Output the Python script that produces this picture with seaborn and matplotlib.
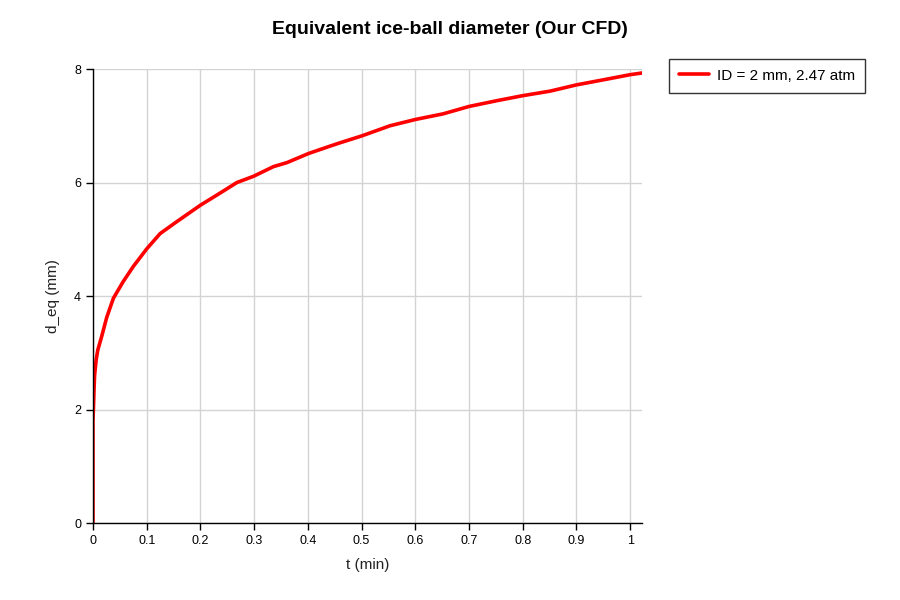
import pandas as pd
import seaborn as sns
import matplotlib.pyplot as plt
import matplotlib.ticker as mticker

# values
t_min = [0.0, 0.0, 0.001, 0.002, 0.003, 0.006, 0.009, 0.016, 0.0255, 0.038,
         0.056, 0.075, 0.1, 0.125, 0.156, 0.2, 0.236, 0.268, 0.299, 0.336,
         0.361, 0.401, 0.441, 0.46, 0.5, 0.553, 0.6, 0.652, 0.7, 0.751,
         0.8, 0.851, 0.9, 0.956, 1.0, 1.022]
d_eq = [0.0, 1.8, 2.05, 2.35, 2.6, 2.88, 3.05, 3.28, 3.62, 3.96,
        4.25, 4.52, 4.83, 5.10, 5.31, 5.60, 5.81, 6.0, 6.11, 6.28,
        6.35, 6.51, 6.64, 6.70, 6.82, 7.0, 7.11, 7.21, 7.34, 7.44,
        7.53, 7.61, 7.72, 7.82, 7.90, 7.93]
series = "ID = 2 mm, 2.47 atm"

df = pd.DataFrame({"t": t_min, "d": d_eq, "case": series})

sns.set_style("whitegrid")
plt.rcParams['font.family'] = ['Liberation Sans', 'DejaVu Sans']
plt.rcParams['text.color'] = 'black'
plt.rcParams['axes.labelcolor'] = '#222222'

fig = plt.figure(figsize=(9, 6), dpi=100)
ax = fig.add_axes([0.1033, 0.1283, 0.61, 0.7567])

sns.lineplot(data=df, x="t", y="d", hue="case", palette=["#ff0000"],
             linewidth=2.6, ax=ax, estimator=None, sort=False)

ax.set_xlim(0, 1.022)
ax.set_ylim(0, 8)
ax.xaxis.set_major_locator(mticker.MultipleLocator(0.1))
ax.yaxis.set_major_locator(mticker.MultipleLocator(2))
ax.xaxis.set_major_formatter(mticker.FuncFormatter(lambda v, p: f"{v:g}"))

ax.grid(True, color="#d3d3d3", linewidth=1)
for s in ["top", "right"]:
    ax.spines[s].set_visible(False)
for s in ["left", "bottom"]:
    ax.spines[s].set_color("black")
    ax.spines[s].set_linewidth(1)
ax.tick_params(axis="both", direction="out", length=5, width=1, color="black",
               labelsize=9, labelcolor="black", bottom=True, left=True)

ax.set_xlabel("t (min)", fontsize=11, labelpad=8)
ax.set_ylabel("d_eq (mm)", fontsize=11, labelpad=10)

fig.suptitle("Equivalent ice-ball diameter (Our CFD)", x=0.5, y=0.965,
             fontsize=14, fontweight="bold", color="black")

leg = ax.legend(loc="upper left", bbox_to_anchor=(0.743, 0.902),
                bbox_transform=fig.transFigure, fontsize=11, frameon=True,
                fancybox=False, edgecolor="black", handlelength=2.0,
                handletextpad=0.5, borderpad=0.65, borderaxespad=0)
leg.get_frame().set_linewidth(1)
leg.set_title(None)

fig.savefig("out.png", dpi=100)
